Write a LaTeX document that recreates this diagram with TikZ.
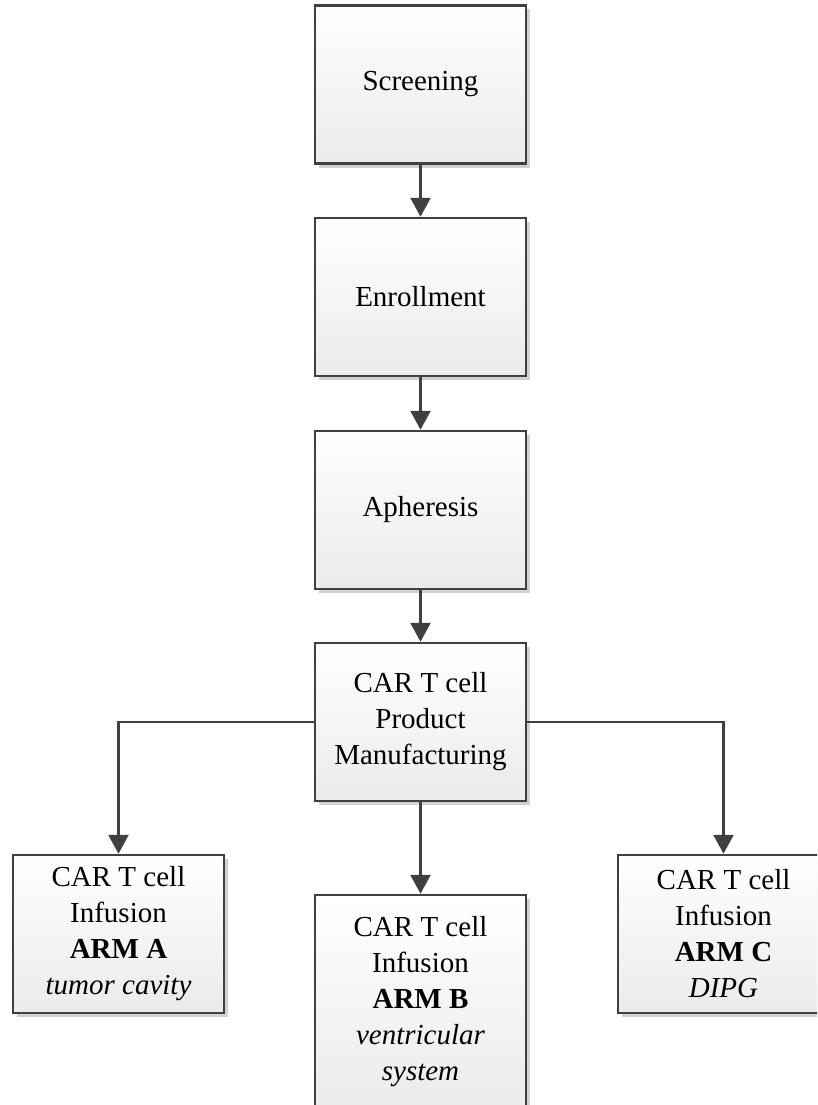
\documentclass[tikz,border=0pt]{standalone}
\usepackage{fontspec}
\setmainfont{Liberation Serif}
\usepackage{tikz}
\usetikzlibrary{arrows.meta}
\usetikzlibrary{shadows}

\definecolor{edgegray}{HTML}{404040}

\tikzset{
  stepbox/.style={draw=edgegray, line width=2.5pt, top color=white, bottom color=black!8,
    minimum width=211pt, minimum height=158pt, inner sep=0pt, align=center, text=black,
    font=\fontsize{29}{36}\selectfont,
    drop shadow={shadow xshift=4pt, shadow yshift=-4pt, opacity=0.18, fill=black}},
  flow/.style={draw=edgegray, line width=2.6pt, -{Triangle[width=20pt,length=19pt]}}
}

\begin{document}
\begin{tikzpicture}[x=1pt, y=-1pt]%[scale=\tikzscale]
  \useasboundingbox (0,0) rectangle (817,1105);
  \clip (0,0) rectangle (817,1105);

  \node[stepbox] (scr) at (420.5, 84.5) {Screening};
  \node[stepbox] (enr) at (420.5, 297.0) {Enrollment};
  \node[stepbox] (aph) at (420.5, 510.0) {Apheresis};
  \node[stepbox] (car) at (420.5, 722.0) {CAR T cell\\Product\\Manufacturing};

  \node[stepbox] (armA) at (118.5, 934.0) {CAR T cell\\Infusion\\\textbf{ARM A}\\\textit{tumor cavity}};
  \node[stepbox, minimum height=214pt] (armB) at (420.5, 1002.0) {CAR T cell\\Infusion\\\textbf{ARM B}\\\textit{ventricular}\\\textit{system}};
  \node[stepbox] (armC) at (723.5, 934.0) {CAR T cell\\Infusion\\\textbf{ARM C}\\\textit{DIPG}};

  \draw[flow] (scr.south) -- (enr.north);
  \draw[flow] (enr.south) -- (aph.north);
  \draw[flow] (aph.south) -- (car.north);
  \draw[flow] (car.west) -| (armA.north);
  \draw[flow] (car.south) -- (armB.north);
  \draw[flow] (car.east) -| (armC.north);
\end{tikzpicture}
\end{document}
